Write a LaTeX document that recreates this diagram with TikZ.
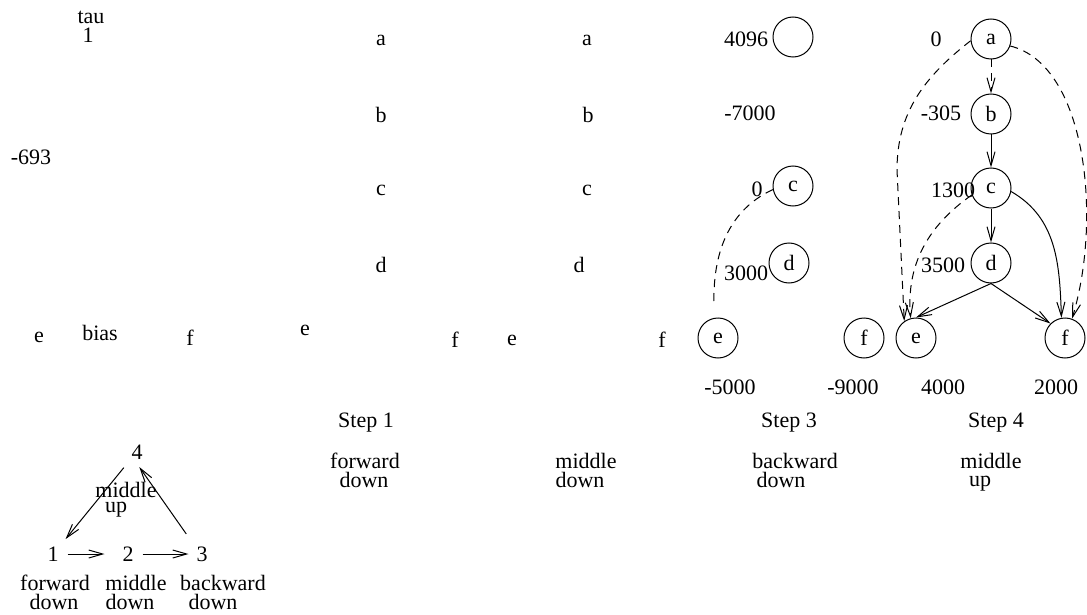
\documentclass[tikz,border=0pt]{standalone}
\usepackage{fontspec}
\setmainfont{Liberation Serif}
\usetikzlibrary{arrows.meta}
\usetikzlibrary{positioning}

\tikzset{
  lbl/.style={inner sep=0pt, font=\fontsize{11}{12}\selectfont},
  num/.style={inner sep=2pt, font=\fontsize{11}{12}\selectfont},
  vtx/.style={draw, circle, minimum size=20pt, inner sep=0pt, font=\fontsize{11}{12}\selectfont},
  arr/.style={-{Straight Barb[length=7pt,width=4pt]}},
  dsh/.style={dash pattern=on 4pt off 3pt},
}

\begin{document}
\begin{tikzpicture}[x=0.5pt, y=-0.5pt, line width=0.5pt]
 \useasboundingbox (0,0) rectangle (1087,615);

 %left column
 \node[lbl] (tau) at (91,17) {tau};
 \node[lbl] (tauval) at (88,35) {1};
 \node[lbl] (biasval) at (31,157) {-693};
 \node[lbl] (Le) at (39,337) {e};
 \node[lbl] (bias) at (100,333) {bias};
 \node[lbl] (Lf) at (190,338) {f};

 %step 1 and step 2
 \foreach \name/\y in {a/40,b/115,c/190,d/265} {
         \node[lbl] (S1\name) at (381,\y) {\name};
 }
 \foreach \name/\x/\y in {a/587/40,b/588/115,c/587/190,d/579/265} {
         \node[lbl] (S2\name) at (\x,\y) {\name};
 }
 \node[lbl] (S1e) at (305,330) {e};
 \node[lbl] (S1f) at (455,340) {f};
 \node[lbl] (S2e) at (512,340) {e};
 \node[lbl] (S2f) at (662,340) {f};

 %step 3
 \node[vtx] (T3a) at (793,37) {};
 \node[vtx] (T3c) at (793,186) {c};
 \node[vtx] (T3d) at (789,263) {d};
 \node[vtx] (T3e) at (718,338) {e};
 \node[vtx] (T3f) at (864,338) {f};
 \node[lbl] at (746,39) {4096};
 \node[lbl] at (750,113) {-7000};
 \node[lbl] at (757,189) {0};
 \node[lbl] at (746,273) {3000};
 \node[lbl] at (730,387) {-5000};
 \node[lbl] at (853,387) {-9000};

 \draw[dsh, shorten >=5.5pt] (T3c.190) to[out=205,in=92] (T3e.100);

 %step 4
 \foreach \name/\y in {a/39,b/114,c/188,d/263} {
         \node[vtx] (T4\name) at (991,\y) {\name};
 }
 \node[vtx] (T4e) at (916,338) {e};
 \node[vtx] (T4f) at (1065,338) {f};
 \node[lbl] at (936,39) {0};
 \node[lbl] at (941,113) {-305};
 \node[lbl] at (953,190) {1300};
 \node[lbl] at (943,265) {3500};
 \node[lbl] at (943,387) {4000};
 \node[lbl] at (1056,387) {2000};

 %arcs
 \draw[arr, dsh] (T4a) -- (T4b);
 \draw[arr] (T4b) -- (T4c);
 \draw[arr] (T4c) -- (T4d);
 \draw[arr] (T4d.south) -- (T4e.north);
 \draw[arr] (T4d.south) -- (T4f.135);
 \draw[arr] (T4c.-10) to[out=-30,in=92] (T4f.100);
 \draw[arr, dsh] (T4c.200) to[out=215,in=95] (T4e.105);
 \draw[arr, dsh] (T4a.185) to[out=218,in=90] (897,170) -- (T4e.125);
 \draw[arr, dsh] (T4a.-20) .. controls (1087,65) and (1102,220) .. (T4f.70);

 %captions
 \node[lbl] at (366,423) {Step 1};
 \node[lbl] at (789,423) {Step 3};
 \node[lbl] at (996,423) {Step 4};
 \node[lbl] at (365,461) {forward};
 \node[lbl] at (364,480) {down};
 \node[lbl] at (586,461) {middle};
 \node[lbl] at (580,480) {down};
 \node[lbl] at (795,461) {backward};
 \node[lbl] at (781,480) {down};
 \node[lbl] at (991,461) {middle};
 \node[lbl] at (980,484) {up};

 %cycle
 \node[num] (n1) at (53,554) {1};
 \node[num] (n2) at (128,554) {2};
 \node[num] (n3) at (202,554) {3};
 \node[num] (n4) at (137,452) {4};
 \draw[arr, shorten <=2.25pt, shorten >=6.75pt] (n1.east) -- (n2.west);
 \draw[arr, shorten <=2.25pt, shorten >=1.75pt] (n2.east) -- (n3.west);
 \draw[arr, shorten <=2.5pt, shorten >=2pt] (n4.south west) -- (n1.north east);
 \draw[arr, shorten <=5pt, shorten >=2pt] (n3.north west) -- (n4.south);
 \node[lbl] at (126,490) {middle};
 \node[lbl] at (116,510) {up};
 \node[lbl] at (55,583) {forward};
 \node[lbl] at (54,602) {down};
 \node[lbl] at (136,583) {middle};
 \node[lbl] at (130,602) {down};
 \node[lbl] at (223,583) {backward};
 \node[lbl] at (213,602) {down};

\end{tikzpicture}
\end{document}
